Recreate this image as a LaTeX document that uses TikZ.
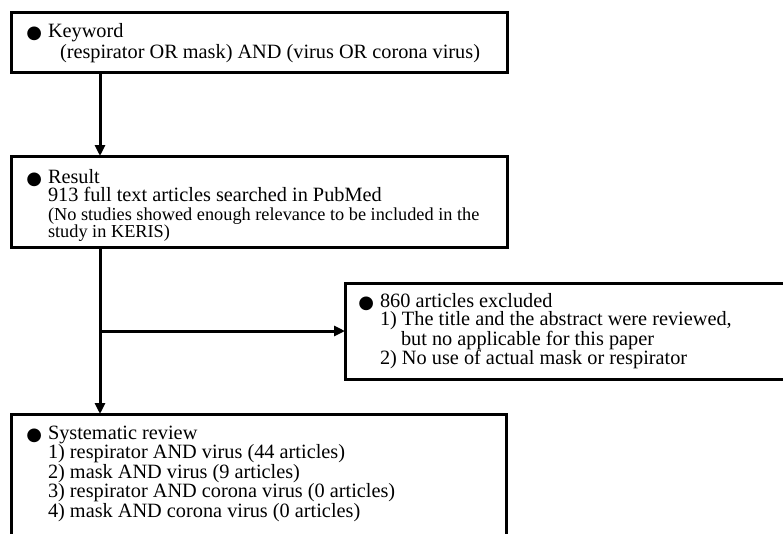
\documentclass[tikz,border=0pt]{standalone}
\usepackage{fontspec}
\setmainfont{Liberation Serif}
\newfontfamily\dvsans{DejaVu Sans}
\usetikzlibrary{arrows.meta}
\newcommand{\blt}{\llap{\raisebox{-1pt}{\dvsans\fontsize{18}{18}\selectfont ●}\hspace{6pt}}}
\begin{document}
\begin{tikzpicture}[x=1pt,y=-1pt,
  box/.style={draw,line width=3pt,rectangle,inner sep=0pt,outer sep=0pt,anchor=north west},
  txt/.style={anchor=north west,inner sep=0pt,outer sep=0pt,align=left,font=\fontsize{20.3}{21}\selectfont},
  arr/.style={line width=3pt,-{Triangle[length=11pt,width=10pt]}}]
\useasboundingbox (0,0) rectangle (783,533);
\clip (0,0) rectangle (783,533);
\node[box,minimum width=496pt,minimum height=60pt] (b1) at (11,12) {};
\node[box,minimum width=496pt,minimum height=91pt] (b2) at (11,156) {};
\node[box,minimum width=460pt,minimum height=96pt] (b3) at (345,283) {};
\node[box,minimum width=495pt,minimum height=200pt] (b4) at (11,414) {};
\node[txt] (t1) at (48,23) {\blt Keyword\\\hspace{12pt}(respirator OR mask) AND (virus OR corona virus)};
\node[txt,font=\fontsize{20.3}{18.5}\selectfont] (t2) at (48,169) {\blt Result\\913 full text articles searched in PubMed\\{\fontsize{18.3}{18}\selectfont (No studies showed enough relevance to be included in the}\\[-1.5pt]{\fontsize{18.3}{16.5}\selectfont study in KERIS)}};
\node[txt,font=\fontsize{20.3}{18.5}\selectfont] (t3) at (380,293) {\blt 860 articles excluded\\1) The title and the abstract were reviewed,\\\hspace{21pt}but no applicable for this paper\\2) No use of actual mask or respirator};
\node[txt,font=\fontsize{20.3}{19.5}\selectfont] (t4) at (48,426) {\blt Systematic review\\1) respirator AND virus (44 articles)\\2) mask AND virus (9 articles)\\3) respirator AND corona virus (0 articles)\\4) mask AND corona virus (0 articles)};
\coordinate (cx) at (100,0);
\coordinate (br) at (b3.west -| cx);
\draw[arr] (b1.south -| cx) -- (b2.north -| cx);
\draw[arr] (b2.south -| cx) -- (b4.north -| cx);
\draw[arr] (br) -- (b3.west);
\end{tikzpicture}
\end{document}
